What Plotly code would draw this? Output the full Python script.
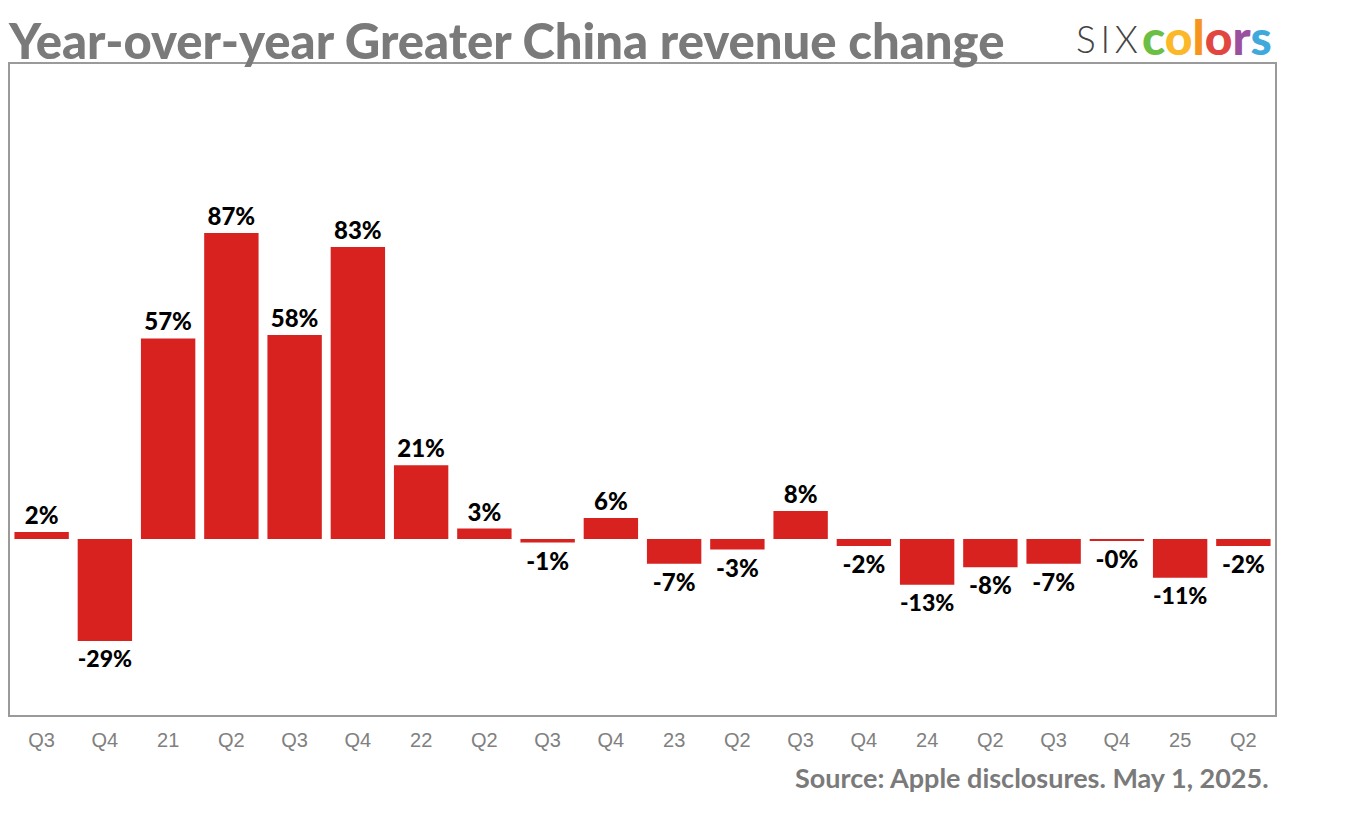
import plotly.graph_objects as go

# fiscal quarters, year shown at Q1
quarters = ['Q3', 'Q4', '21', 'Q2', 'Q3', 'Q4', '22', 'Q2', 'Q3', 'Q4',
            '23', 'Q2', 'Q3', 'Q4', '24', 'Q2', 'Q3', 'Q4', '25', 'Q2']
change = [2, -29, 57, 87, 58, 83, 21, 3, -1, 6,
          -7, -3, 8, -2, -13, -8, -7, -0.3, -11, -2]
labels = ['2%', '-29%', '57%', '87%', '58%', '83%', '21%', '3%', '-1%', '6%',
          '-7%', '-3%', '8%', '-2%', '-13%', '-8%', '-7%', '-0%', '-11%', '-2%']

pos = list(range(len(quarters)))

fig = go.Figure()
fig.add_trace(go.Bar(
    x=pos, y=change, text=labels, textposition='outside',
    marker_color='#d7221f', marker_line_width=0,
    textfont=dict(family='Lato', size=24, color='#000000', weight=900),
    cliponaxis=False, hoverinfo='skip'))

fig.add_annotation(
    text='Year-over-year Greater China revenue change',
    xref='paper', yref='paper', x=-0.003, y=1.0, xanchor='left', yanchor='bottom',
    yshift=-7, showarrow=False,
    font=dict(family='Lato', size=49, color='#7a7a7a', weight=900))

fig.add_annotation(
    text='S\u2009I\u2009X',
    xref='paper', yref='paper', x=0.893, y=1.0, xanchor='right', yanchor='bottom',
    yshift=1, showarrow=False,
    font=dict(family='Lato', size=37, color='#444444', weight=300))
fig.add_annotation(
    text=("<span style='color:#6cbf44'>c</span><span style='color:#fbb829'>o</span>"
          "<span style='color:#f7941d'>l</span><span style='color:#e2473f'>o</span>"
          "<span style='color:#9b4f9f'>r</span><span style='color:#3fa9dc'>s</span>"),
    xref='paper', yref='paper', x=0.893, y=1.0, xanchor='left', yanchor='bottom',
    yshift=-3, showarrow=False,
    font=dict(family='Lato', size=48, color='#444444', weight=900))

fig.add_annotation(
    text='Source: Apple disclosures. May 1, 2025.',
    xref='paper', yref='paper', x=0.997, y=-0.068, xanchor='right', yanchor='top',
    showarrow=False,
    font=dict(family='Lato', size=27, color='#7a7a7a', weight='bold'))

fig.update_layout(
    width=1360, height=835,
    margin=dict(l=2, r=93, t=56, b=128),
    paper_bgcolor='white', plot_bgcolor='white',
    bargap=0.14, showlegend=False,
    xaxis=dict(tickvals=pos, ticktext=quarters, range=[-0.5, len(pos) - 0.5],
               showline=True, mirror=True, linecolor='#9a9a9a', linewidth=1.5,
               showgrid=False, zeroline=False, ticks='outside', ticklen=6,
               tickcolor='rgba(0,0,0,0)',
               tickfont=dict(family='Liberation Sans', size=20, color='#808080')),
    yaxis=dict(range=[-50, 135], showticklabels=False, showgrid=False,
               showline=True, mirror=True, linecolor='#9a9a9a', linewidth=1.5,
               zeroline=True, zerolinecolor='white', zerolinewidth=3),
)

fig.write_html('out.html')
